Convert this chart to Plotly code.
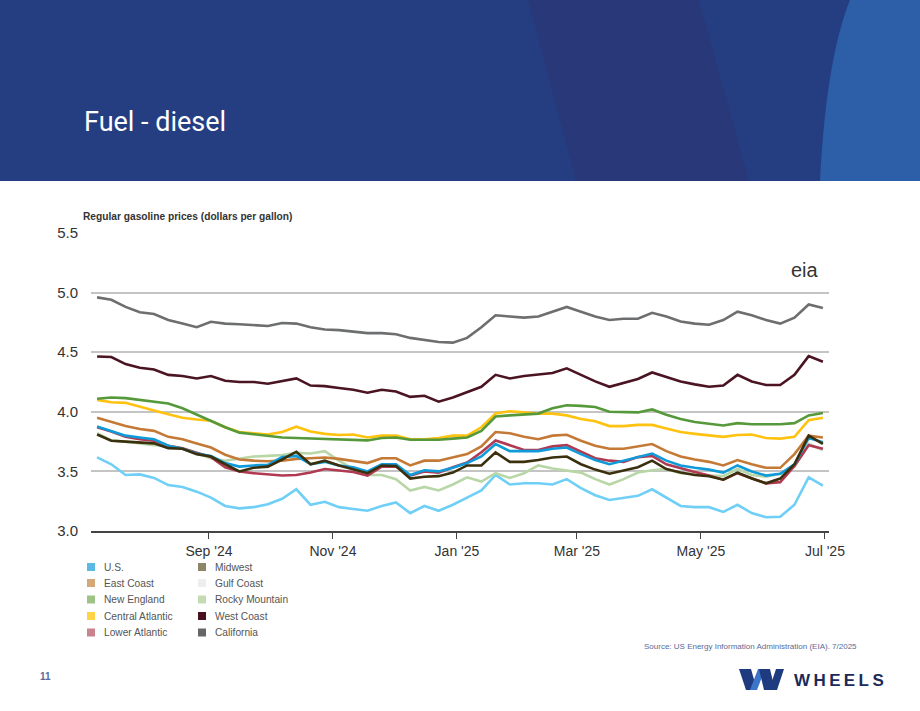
import pandas as pd
import plotly.graph_objects as go

# ---------------- data ----------------
weeks = pd.date_range("2024-07-08", periods=52, freq="7D")

california = [4.96, 4.94, 4.88, 4.835, 4.82, 4.77, 4.74, 4.71, 4.755, 4.74, 4.735, 4.73, 4.72,
              4.745, 4.74, 4.71, 4.69, 4.685, 4.67, 4.66, 4.66, 4.65, 4.62, 4.60, 4.585, 4.58,
              4.62, 4.71, 4.81, 4.80, 4.79, 4.80, 4.84, 4.88, 4.84, 4.80, 4.77, 4.78, 4.78,
              4.83, 4.80, 4.757, 4.74, 4.73, 4.77, 4.84, 4.81, 4.77, 4.74, 4.79, 4.90, 4.87]
west_coast = [4.464, 4.46, 4.40, 4.37, 4.355, 4.31, 4.30, 4.28, 4.30, 4.26, 4.25, 4.25, 4.235,
              4.26, 4.28, 4.22, 4.215, 4.20, 4.185, 4.16, 4.185, 4.17, 4.125, 4.135, 4.085, 4.12,
              4.165, 4.21, 4.31, 4.28, 4.30, 4.315, 4.325, 4.365, 4.31, 4.255, 4.21, 4.24, 4.275,
              4.33, 4.29, 4.255, 4.23, 4.21, 4.22, 4.31, 4.255, 4.225, 4.225, 4.31, 4.467, 4.42]
new_england = [4.11, 4.12, 4.115, 4.10, 4.087, 4.07, 4.03, 3.975, 3.925, 3.87, 3.825, 3.81, 3.80,
               3.785, 3.78, 3.775, 3.77, 3.765, 3.76, 3.76, 3.78, 3.785, 3.765, 3.765, 3.765, 3.775,
               3.785, 3.84, 3.96, 3.97, 3.98, 3.985, 4.03, 4.055, 4.05, 4.04, 4.00, 4.00, 3.995,
               4.02, 3.975, 3.94, 3.915, 3.90, 3.885, 3.905, 3.895, 3.895, 3.895, 3.905, 3.97, 3.99]
central_atlantic = [4.10, 4.08, 4.075, 4.04, 4.01, 3.98, 3.95, 3.935, 3.925, 3.87, 3.83, 3.82, 3.81,
                    3.83, 3.875, 3.835, 3.815, 3.805, 3.81, 3.785, 3.80, 3.80, 3.77, 3.77, 3.78, 3.80,
                    3.80, 3.87, 3.985, 4.005, 3.997, 3.985, 3.985, 3.97, 3.94, 3.92, 3.88, 3.88, 3.89,
                    3.89, 3.86, 3.83, 3.815, 3.805, 3.79, 3.805, 3.81, 3.78, 3.775, 3.79, 3.93, 3.95]
east_coast = [3.95, 3.915, 3.88, 3.855, 3.84, 3.79, 3.77, 3.735, 3.70, 3.64, 3.60, 3.59, 3.585,
              3.59, 3.605, 3.61, 3.617, 3.605, 3.59, 3.57, 3.61, 3.61, 3.55, 3.59, 3.59, 3.617,
              3.645, 3.71, 3.83, 3.82, 3.79, 3.77, 3.80, 3.807, 3.757, 3.715, 3.69, 3.69, 3.71,
              3.73, 3.67, 3.625, 3.60, 3.58, 3.55, 3.595, 3.56, 3.53, 3.53, 3.645, 3.80, 3.785]
lower_atlantic = [3.87, 3.835, 3.79, 3.77, 3.757, 3.715, 3.695, 3.66, 3.62, 3.535, 3.50, 3.485, 3.475,
                  3.465, 3.47, 3.49, 3.52, 3.51, 3.495, 3.465, 3.54, 3.54, 3.465, 3.50, 3.49, 3.535,
                  3.575, 3.66, 3.76, 3.72, 3.68, 3.68, 3.71, 3.72, 3.665, 3.61, 3.59, 3.58, 3.62,
                  3.63, 3.56, 3.525, 3.495, 3.465, 3.43, 3.485, 3.44, 3.40, 3.41, 3.545, 3.72, 3.69]
us = [3.877, 3.84, 3.80, 3.785, 3.77, 3.715, 3.69, 3.65, 3.63, 3.57, 3.54, 3.55, 3.555,
      3.62, 3.63, 3.56, 3.58, 3.55, 3.535, 3.50, 3.56, 3.56, 3.47, 3.51, 3.50, 3.53,
      3.57, 3.625, 3.73, 3.67, 3.67, 3.67, 3.69, 3.70, 3.645, 3.595, 3.56, 3.59, 3.62,
      3.65, 3.59, 3.55, 3.53, 3.515, 3.49, 3.55, 3.50, 3.465, 3.48, 3.56, 3.78, 3.745]
midwest = [3.81, 3.757, 3.75, 3.74, 3.735, 3.695, 3.69, 3.645, 3.625, 3.56, 3.50, 3.53, 3.54,
           3.60, 3.665, 3.56, 3.59, 3.55, 3.52, 3.485, 3.55, 3.545, 3.44, 3.455, 3.46, 3.49,
           3.55, 3.55, 3.66, 3.58, 3.58, 3.595, 3.617, 3.625, 3.56, 3.515, 3.48, 3.505, 3.535,
           3.59, 3.52, 3.49, 3.47, 3.46, 3.43, 3.49, 3.44, 3.40, 3.44, 3.56, 3.80, 3.73]
rocky_mountain = [3.82, 3.76, 3.75, 3.735, 3.72, 3.715, 3.69, 3.65, 3.61, 3.59, 3.605, 3.625, 3.63,
                  3.637, 3.655, 3.65, 3.67, 3.59, 3.52, 3.47, 3.47, 3.435, 3.34, 3.37, 3.34, 3.39,
                  3.45, 3.415, 3.485, 3.445, 3.485, 3.55, 3.525, 3.51, 3.49, 3.435, 3.39, 3.435, 3.49,
                  3.51, 3.52, 3.485, 3.48, 3.465, 3.46, 3.52, 3.47, 3.455, 3.48, 3.54, 3.73, 3.68]
gulf_coast = [3.617, 3.56, 3.47, 3.475, 3.445, 3.385, 3.37, 3.33, 3.28, 3.21, 3.19, 3.20, 3.225,
              3.27, 3.35, 3.22, 3.245, 3.20, 3.185, 3.17, 3.21, 3.24, 3.15, 3.21, 3.17, 3.22,
              3.28, 3.34, 3.47, 3.39, 3.40, 3.40, 3.39, 3.435, 3.36, 3.30, 3.26, 3.275, 3.295,
              3.35, 3.28, 3.21, 3.20, 3.20, 3.16, 3.22, 3.15, 3.115, 3.12, 3.22, 3.45, 3.38]

tick_dates = ["2024-09-01", "2024-11-01", "2025-01-01", "2025-03-01", "2025-05-01", "2025-07-01"]
tick_labels = ["Sep '24", "Nov '24", "Jan '25", "Mar '25", "May '25", "Jul '25"]
y_ticks = [3.0, 3.5, 4.0, 4.5, 5.0, 5.5]

legend_col1 = ["U.S.", "East Coast", "New England", "Central Atlantic", "Lower Atlantic"]
legend_col2 = ["Midwest", "Gulf Coast", "Rocky Mountain", "West Coast", "California"]
legend_colors1 = ["#5cb9e2", "#d5a877", "#9dc386", "#ffd447", "#c9838f"]
legend_colors2 = ["#8d856a", "#eeeeee", "#c3dcb2", "#4a1020", "#666666"]

# draw order (bottom first): name, values, line colour
series = [
    ("California", california, "#6d6e70"),
    ("West Coast", west_coast, "#4b1422"),
    ("Gulf Coast", gulf_coast, "#6fcff6"),
    ("Rocky Mountain", rocky_mountain, "#b9d7a6"),
    ("Central Atlantic", central_atlantic, "#ffc20e"),
    ("New England", new_england, "#56993a"),
    ("East Coast", east_coast, "#c47a36"),
    ("Lower Atlantic", lower_atlantic, "#b03a52"),
    ("U.S.", us, "#0f9bd9"),
    ("Midwest", midwest, "#3b300e"),
]

# ---------------- figure ----------------
W, H = 920, 711
L, R, T, B = 91, 829, 233, 531


def X(px):
    return (px - L) / (R - L)


def Y(py):
    return (B - py) / (B - T)


fig = go.Figure()
for name, vals, col in series:
    fig.add_trace(go.Scatter(x=weeks, y=vals, mode="lines", name=name,
                             line=dict(color=col, width=2.6), showlegend=False,
                             hoverinfo="x+y+name"))

shapes = []
# header banner
shapes.append(dict(type="rect", xref="paper", yref="paper", x0=X(0), x1=X(920), y0=Y(181), y1=Y(0),
                   fillcolor="#253e82", line=dict(width=0), layer="below"))
shapes.append(dict(type="path", xref="paper", yref="paper",
                   path=f"M {X(528)},{Y(0)} L {X(699)},{Y(0)} L {X(749)},{Y(181)} L {X(576)},{Y(181)} Z",
                   fillcolor="#283878", line=dict(width=0), layer="below"))
shapes.append(dict(type="path", xref="paper", yref="paper",
                   path=f"M {X(850)},{Y(0)} L {X(920)},{Y(0)} L {X(920)},{Y(181)} L {X(820)},{Y(181)} "
                        f"Q {X(826)},{Y(60)} {X(850)},{Y(0)} Z",
                   fillcolor="#2d5ea8", line=dict(width=0), layer="below"))
# legend squares
rows = [567, 583, 599.5, 616, 632.5]
for i in range(5):
    for cx, colr in ((91, legend_colors1[i]), (202, legend_colors2[i])):
        shapes.append(dict(type="rect", xref="paper", yref="paper",
                           x0=X(cx - 4), x1=X(cx + 4), y0=Y(rows[i] + 4), y1=Y(rows[i] - 4),
                           fillcolor=colr, line=dict(width=0)))
# WHEELS icon
icon = [
    ([(739, 669), (751, 669), (757, 690), (746, 690)], "#1f3b80"),
    ([(750, 690), (757, 690), (765, 669), (758, 669)], "#3c74c8"),
    ([(759, 669), (770, 669), (775, 690), (764, 690)], "#1f3b80"),
    ([(769, 690), (777, 690), (784, 669), (776, 669)], "#1f3b80"),
]
for pts, colr in icon:
    p = "M " + " L ".join(f"{X(a)},{Y(b)}" for a, b in pts) + " Z"
    shapes.append(dict(type="path", xref="paper", yref="paper", path=p,
                       fillcolor=colr, line=dict(width=0)))

ann = []
ann.append(dict(text="Fuel - diesel", x=X(82), y=Y(122), xref="paper", yref="paper",
                xanchor="left", yanchor="middle", showarrow=False,
                font=dict(family="Roboto", size=27, color="white")))
ann.append(dict(text="<b>Regular gasoline prices (dollars per gallon)</b>", x=X(81), y=Y(216),
                xref="paper", yref="paper", xanchor="left", yanchor="middle", showarrow=False,
                font=dict(family="Liberation Sans", size=10.2, color="#333333")))
ann.append(dict(text="eia", x=X(821), y=Y(270), xref="paper", yref="paper",
                xanchor="right", yanchor="middle", showarrow=False,
                font=dict(family="Liberation Sans", size=20, color="#333333")))
for i in range(5):
    ann.append(dict(text=legend_col1[i], x=X(102), y=Y(rows[i]), xref="paper", yref="paper",
                    xanchor="left", yanchor="middle", showarrow=False,
                    font=dict(family="Liberation Sans", size=10.2, color="#555555")))
    ann.append(dict(text=legend_col2[i], x=X(213), y=Y(rows[i]), xref="paper", yref="paper",
                    xanchor="left", yanchor="middle", showarrow=False,
                    font=dict(family="Liberation Sans", size=10.2, color="#555555")))
ann.append(dict(text="Source: US Energy Information Administration (EIA). 7/2025", x=X(859), y=Y(646),
                xref="paper", yref="paper", xanchor="right", yanchor="middle", showarrow=False,
                font=dict(family="Liberation Sans", size=8, color="#5a6a96")))
ann.append(dict(text="<b>11</b>", x=X(45), y=Y(676), xref="paper", yref="paper",
                xanchor="center", yanchor="middle", showarrow=False,
                font=dict(family="Liberation Sans", size=10, color="#5a6a9a")))
ann.append(dict(text="<b>W\u2009H\u2009E\u2009E\u2009L\u2009S</b>", x=X(792), y=Y(680), xref="paper", yref="paper",
                xanchor="left", yanchor="middle", showarrow=False,
                font=dict(family="Liberation Sans", size=17, color="#1b2a58")))

fig.update_layout(
    width=W, height=H,
    margin=dict(l=L, r=W - R, t=T, b=H - B, pad=0),
    paper_bgcolor="white", plot_bgcolor="white",
    showlegend=False,
    shapes=shapes, annotations=ann,
    xaxis=dict(range=["2024-07-05", "2025-07-03"], tickvals=tick_dates, ticktext=tick_labels,
               showgrid=False, zeroline=False, showline=True, linecolor="#444444", linewidth=1.5,
               ticks="outside", ticklen=6, tickwidth=1.2, tickcolor="#444444",
               tickfont=dict(family="Liberation Sans", size=14, color="#333333")),
    yaxis=dict(range=[3.0, 5.5], tickvals=y_ticks, tickformat=".1f",
               showgrid=True, gridcolor="#c4c4c4", gridwidth=1.5, zeroline=False,
               showline=False, ticks="", ticklabelstandoff=12,
               tickfont=dict(family="Liberation Sans", size=15, color="#333333")),
)

fig.write_html("out.html")
